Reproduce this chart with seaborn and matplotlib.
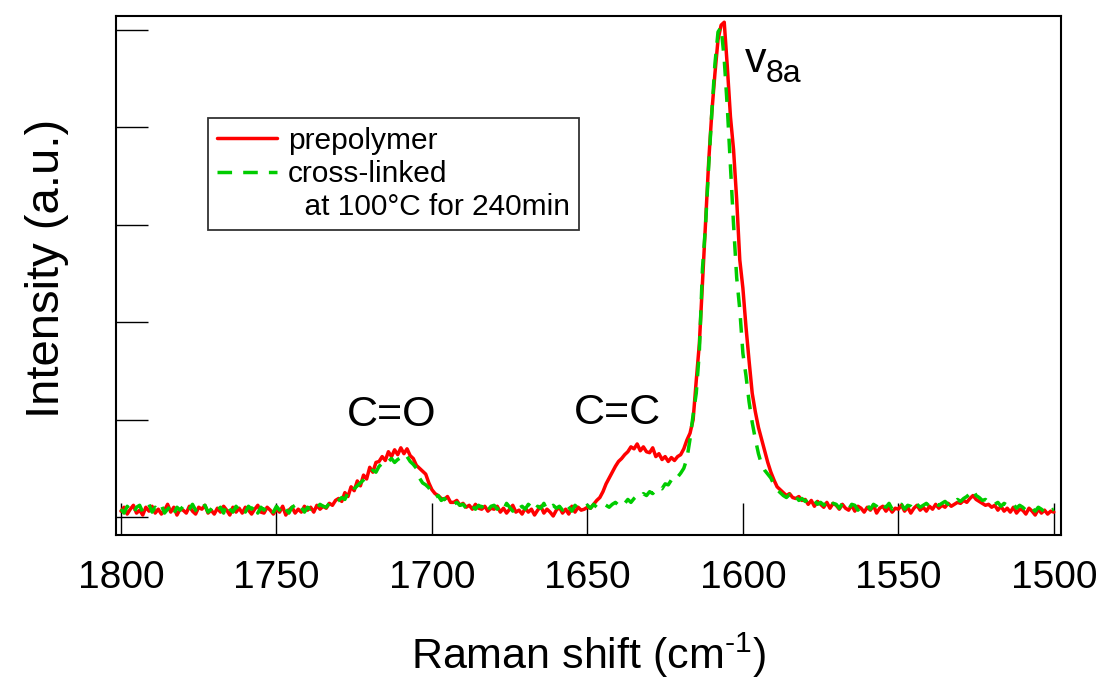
import numpy as np
import pandas as pd
import matplotlib
matplotlib.use("Agg")
import matplotlib.pyplot as plt
import seaborn as sns
from matplotlib.lines import Line2D

# Raman shift axis (cm^-1), 1 cm^-1 steps from 1800 down to 1500
shift = list(range(1800, 1499, -1))

prepolymer = [
    6, 10, 3, 8, 12, 4, 7, 2, 10, 6,
    11, 4, 8, 3, 7, 13, 5, 10, 2, 8,
    7, 4, 11, 6, 3, 10, 8, 12, 4, 7,
    3, 9, 5, 11, 7, 2, 10, 5, 9, 4,
    10, 7, 3, 8, 12, 5, 4, 10, 7, 3,
    8, 5, 11, 2, 7, 10, 4, 8, 5, 11,
    7, 10, 5, 12, 8, 11, 9, 14, 12, 17,
    19, 16, 25, 21, 31, 27, 37, 32, 43, 39,
    51, 46, 56, 57, 62, 58, 67, 62, 69, 64,
    71, 65, 70, 63, 60, 53, 50, 47, 44, 35,
    28, 24, 22, 19, 18, 21, 15, 15, 17, 12,
    14, 10, 12, 8, 13, 9, 8, 11, 6, 9,
    8, 11, 5, 9, 4, 8, 12, 5, 7, 3,
    9, 5, 8, 2, 7, 11, 4, 8, 5, 1,
    7, 10, 4, 8, 3, 11, 5, 10, 7, 8,
    10, 9, 13, 17, 20, 26, 34, 40, 46, 52,
    57, 60, 64, 67, 72, 70, 75, 68, 72, 67,
    66, 71, 62, 65, 59, 62, 57, 61, 58, 62,
    64, 70, 79, 86, 100, 140, 178, 240, 300, 365,
    415, 455, 490, 505, 508, 462, 411, 377, 326, 264,
    235, 195, 160, 127, 108, 92, 80, 68, 56, 46,
    38, 31, 28, 25, 22, 24, 20, 19, 21, 17,
    18, 13, 17, 11, 16, 13, 10, 15, 9, 14,
    12, 8, 13, 9, 7, 12, 6, 11, 9, 5,
    10, 7, 12, 4, 9, 11, 6, 10, 5, 9,
    8, 12, 6, 10, 4, 9, 12, 7, 10, 6,
    11, 8, 13, 9, 12, 10, 14, 11, 13, 15,
    14, 17, 15, 19, 22, 18, 16, 14, 12, 13,
    10, 12, 7, 11, 6, 9, 5, 10, 4, 8,
    7, 3, 9, 6, 2, 8, 4, 7, 3, 6,
    5,
]

cross_linked = [
    8, 4, 11, 7, 3, 10, 12, 5, 8, 13,
    5, 10, 7, 12, 4, 8, 11, 3, 10, 7,
    11, 5, 8, 13, 7, 4, 10, 12, 5, 8,
    12, 7, 10, 4, 14, 8, 5, 11, 7, 10,
    5, 11, 8, 13, 4, 10, 7, 12, 8, 5,
    11, 7, 13, 8, 4, 10, 12, 7, 10, 5,
    10, 8, 12, 9, 13, 11, 10, 14, 12, 15,
    17, 20, 18, 25, 23, 29, 32, 35, 38, 42,
    45, 48, 46, 52, 55, 53, 57, 60, 56, 59,
    61, 58, 62, 57, 54, 50, 40, 35, 33, 30,
    24, 20, 22, 17, 19, 15, 16, 13, 15, 12,
    13, 9, 14, 11, 8, 12, 10, 14, 7, 11,
    12, 8, 11, 7, 14, 10, 6, 12, 9, 11,
    8, 13, 10, 6, 11, 9, 14, 7, 10, 12,
    9, 11, 7, 14, 10, 6, 12, 9, 11, 10,
    12, 9, 13, 10, 11, 14, 12, 10, 13, 15,
    12, 16, 14, 18, 15, 19, 22, 20, 24, 22,
    26, 24, 28, 31, 29, 34, 33, 38, 36, 41,
    45, 50, 60, 80, 105, 127, 170, 255, 300, 360,
    415, 465, 498, 503, 470, 420, 360, 300, 246, 213,
    168, 145, 118, 97, 80, 65, 54, 48, 44, 40,
    33, 28, 25, 22, 20, 23, 18, 21, 17, 19,
    16, 18, 14, 17, 13, 15, 12, 16, 11, 14,
    13, 9, 14, 11, 8, 13, 12, 7, 11, 10,
    12, 8, 13, 11, 7, 12, 10, 14, 8, 11,
    10, 13, 8, 12, 11, 7, 13, 10, 12, 14,
    11, 13, 15, 12, 14, 16, 13, 17, 15, 18,
    16, 19, 21, 24, 28, 22, 20, 17, 18, 15,
    16, 13, 15, 11, 14, 12, 10, 13, 9, 12,
    10, 7, 11, 9, 6, 10, 8, 5, 9, 7,
    8,
]

x_ticks = [1800, 1750, 1700, 1650, 1600, 1550, 1500]
y_ticks = [0, 100, 200, 300, 400, 500]

sns.set_style("ticks")
plt.rcParams["font.family"] = ["Liberation Sans", "DejaVu Sans"]
plt.rcParams["mathtext.fontset"] = "custom"
plt.rcParams["mathtext.rm"] = "Liberation Sans"
plt.rcParams["mathtext.it"] = "Liberation Sans"
plt.rcParams["text.color"] = "black"
plt.rcParams["axes.labelcolor"] = "black"
plt.rcParams["xtick.color"] = "black"
plt.rcParams["ytick.color"] = "black"

df = pd.DataFrame({"shift": shift, "prepolymer": prepolymer, "cross": cross_linked})

fig = plt.figure(figsize=(11.09, 6.82), dpi=100)
ax = fig.add_axes([116 / 1109, 1 - 535 / 682, 945 / 1109, 519 / 682])

sns.lineplot(data=df, x="shift", y="prepolymer", ax=ax, color="#FF0000",
             linewidth=2.5, zorder=3, sort=False, estimator=None)
sns.lineplot(data=df, x="shift", y="cross", ax=ax, color="#00CC00",
             linewidth=2.5, linestyle=(0, (4.2, 3.2)), zorder=4, sort=False, estimator=None)

ax.set_xlim(1801.6, 1497.7)
ax.set_ylim(-18.5, 514.4)
ax.set_xticks(x_ticks)
ax.set_xticklabels([str(t) for t in x_ticks])
ax.set_yticks(y_ticks)
ax.set_yticklabels([])
ax.tick_params(axis="x", direction="in", length=23, width=1.0, labelsize=28, pad=18,
               color="black", labelcolor="black")
ax.tick_params(axis="y", direction="in", length=23, width=1.0, color="black")
ax.set_axisbelow(True)
for s in ax.spines.values():
    s.set_visible(True)
    s.set_linewidth(1.5)
    s.set_color("black")

ax.set_xlabel("Raman shift (cm$^{\\mathregular{\u20101}}$)", fontsize=31, color="black")
ax.xaxis.set_label_coords(0.5, -0.185)
ax.set_ylabel("Intensity (a.u.)", fontsize=34, color="black")
ax.yaxis.set_label_coords(-0.05, 0.513)

ax.text(1712.9, 93.5, "C=O", fontsize=31, ha="center", va="baseline", color="black")
ax.text(1640.2, 95.5, "C=C", fontsize=31, ha="center", va="baseline", color="black")
ax.text(1599.4, 457, "v", fontsize=31, ha="left", va="baseline", color="black")
ax.text(1592.6, 447, "8a", fontsize=23, ha="left", va="baseline", color="black")

handles = [Line2D([], [], color="#FF0000", linewidth=2.5),
           Line2D([], [], color="#00CC00", linewidth=2.5, linestyle=(0, (4.2, 3.2))),
           Line2D([], [], color="none")]
labels = ["prepolymer", "cross-linked", "  at 100°C for 240min"]
leg = ax.legend(handles, labels, loc="upper left", bbox_to_anchor=(0.0974, 0.8035),
                borderaxespad=0, fontsize=21.5, frameon=True, fancybox=False,
                handlelength=2.0, handletextpad=0.37, labelspacing=0.17,
                borderpad=0.3)
for t in leg.get_texts():
    t.set_color("black")
leg.get_frame().set_edgecolor("black")
leg.get_frame().set_linewidth(1.3)

fig.savefig("out.png", dpi=100)
